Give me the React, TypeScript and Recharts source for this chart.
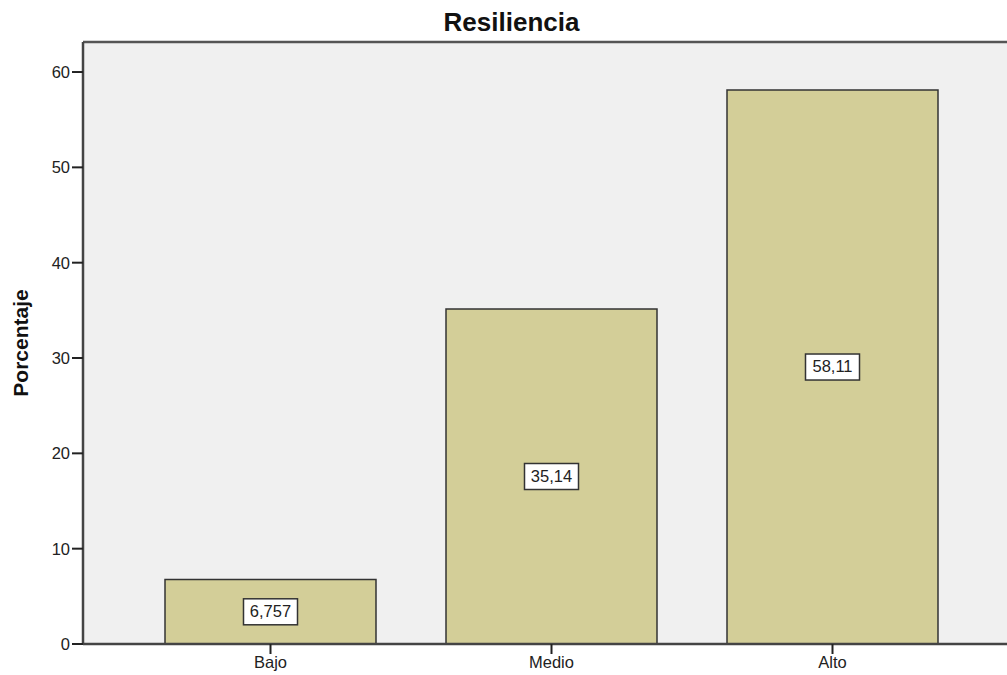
import { BarChart, Bar, XAxis, YAxis, CartesianGrid, LabelList, ReferenceLine, Label } from "recharts";

const categories = ["Bajo", "Medio", "Alto"];
const percentages = [6.757, 35.14, 58.11];
const yTicks = [0, 10, 20, 30, 40, 50, 60];

const data = categories.map((name, i) => ({ name, value: percentages[i] }));

const FONT = "Arial, 'Liberation Sans', sans-serif";
const Y_MAX = 63.15;

// white boxed value label in the middle of each bar (comma decimals)
function ValueBox(props: any) {
  const { x, y, width, height, value } = props;
  const text = String(value).replace(".", ",");
  const cx = x + width / 2;
  const cy = y + height / 2;
  const w = 54;
  const h = 26;
  return (
    <g>
      <rect x={cx - w / 2} y={cy - h / 2} width={w} height={h} fill="#ffffff" stroke="#333333" strokeWidth={1.5} />
      <text x={cx} y={cy + 1} textAnchor="middle" dominantBaseline="middle" fontSize={16.5} fill="#222" fontFamily={FONT}>
        {text}
      </text>
    </g>
  );
}

function YTitle(props: any) {
  const vb = props.viewBox;
  const cy = vb.y + vb.height / 2;
  return (
    <text
      x={22}
      y={cy}
      transform={`rotate(-90, 22, ${cy})`}
      textAnchor="middle"
      dominantBaseline="middle"
      fontSize={21}
      fontWeight="bold"
      fill="#111"
      fontFamily={FONT}
    >
      Porcentaje
    </text>
  );
}

export default function App() {
  return (
    <div style={{ position: "absolute", left: 0, top: 0, width: 1007, height: 675, overflow: "hidden", background: "#fff" }}>
      <div
        style={{
          position: "absolute",
          left: 8,
          width: 1007,
          top: 7,
          textAlign: "center",
          fontFamily: FONT,
          fontWeight: "bold",
          fontSize: 26,
          color: "#111",
        }}
      >
        Resiliencia
      </div>
      <BarChart
        width={1025}
        height={675}
        data={data}
        margin={{ top: 42, right: 5, bottom: 0, left: 0 }}
        barSize={211}
      >
        <CartesianGrid fill="#F0F0F0" horizontal={false} vertical={false} stroke="none" />
        <ReferenceLine y={Y_MAX} stroke="#555" strokeWidth={2.5} />
        <XAxis
          dataKey="name"
          height={31}
          padding={{ left: 47, right: 47 }}
          axisLine={{ stroke: "#444", strokeWidth: 2.5 }}
          tickLine={{ stroke: "#222", strokeWidth: 2 }}
          tickSize={10}
          tick={{ fill: "#222", fontSize: 16.5, fontFamily: FONT }}
        />
        <YAxis
          width={83}
          domain={[0, Y_MAX]}
          ticks={yTicks}
          allowDataOverflow
          axisLine={{ stroke: "#444", strokeWidth: 2.5 }}
          tickLine={{ stroke: "#222", strokeWidth: 2 }}
          tickSize={11}
          tick={{ fill: "#222", fontSize: 16.5, fontFamily: FONT }}
        >
          <Label content={YTitle} />
        </YAxis>
        <Bar dataKey="value" fill="#D3CE98" stroke="#333" strokeWidth={1.5} isAnimationActive={false}>
          <LabelList dataKey="value" content={ValueBox} />
        </Bar>
      </BarChart>
    </div>
  );
}
